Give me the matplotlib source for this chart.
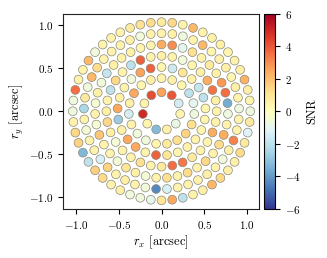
import numpy as np
import matplotlib
matplotlib.use('Agg')
import matplotlib.pyplot as plt

plt.rcParams['font.family'] = 'cmr10'
plt.rcParams['mathtext.fontset'] = 'cm'
plt.rcParams['axes.formatter.use_mathtext'] = True

# ring radii (arcsec), apertures per ring start at 90 deg and go counter-clockwise
ring_radius = [0.22, 0.383, 0.513, 0.643, 0.775, 0.905, 1.035]

snr_ring0 = [2.6, 4.2, 0.5, 5.0, 0.4, -3.2, 0.6, -0.8, 0.4, -1.5, 4.0]
snr_ring1 = [0.5, 0.6, 0.4, 2.5, 0.6, -1.5, 0.5, -0.6, -0.6, 0.4, 0.8, 1.2, 1.5,
             1.2, -0.7, -1.0, -2.0, 0.4, 0.6]
snr_ring2 = [0.4, 3.8, 2.6, -0.6, 0.5, 0.6, 2.5, -2.8, 0.6, 2.5, 2.5, 0.5, 3.8,
             1.0, 0.4, 0.5, 0.5, 0.4, 0.4, 0.4, -2.0, -1.8, 0.6, 1.0, -1.6]
snr_ring3 = [0.6, 0.5, 3.8, -2.0, 0.5, 1.4, -2.0, 0.5, 0.6, 1.4, 0.6, -0.5, 0.5,
             0.5, 1.2, 0.5, 0.8, 3.6, 3.4, 0.8, 0.5, 0.4, 2.4, 0.5, 0.5, 0.6,
             3.5, 2.4, 0.6, 0.4, -0.6, 0.5]
snr_ring4 = [2.4, 0.5, 0.4, 0.6, 0.5, 0.6, -1.8, -0.6, 0.6, -0.4, 0.5, -0.4, 1.8,
             0.5, 0.5, -0.5, 1.0, 0.6, -0.5, 0.5, 1.2, 0.5, 1.3, 0.5, 1.4, 0.5,
             1.3, 2.4, 0.5, -0.7, -3.6, 3.6, 2.8, 0.6, 0.8, 0.5, 1.2, -1.0, 3.0]
snr_ring5 = [0.5, 0.5, -0.6, 0.6, 0.5, 0.5, 0.5, 1.3, 2.2, -0.6, 0.8, -2.4, 0.5,
             -0.5, 0.5, 0.5, -1.4, 1.5, 0.5, 0.6, 0.5, -0.6, -4.4, -1.4, 0.5, 0.5,
             0.5, 0.6, 0.5, -0.6, 0.6, 3.2, 0.5, 0.5, -0.7, 0.5, 0.6, 0.4, 0.6,
             0.5, 0.4, 2.2, 0.5, -0.7, 0.6]
snr_ring6 = [0.8, 1.3, 1.1, 0.8, 0.5, 0.5, 0.5, -0.6, 2.2, 0.5, 0.5, 3.6, -0.7,
             -0.7, 0.5, 1.4, 1.5, -3.3, -2.0, 1.6, 1.3, 0.5, 0.6, -0.6, -0.6,
             -0.9, 1.0, 2.5, -2.0, 0.5, 0.6, 2.2, 1.4, 0.6, 0.6, 1.3, 0.8, -1.2,
             0.8, -0.7, 0.4, 0.6, 2.3, 0.6, 0.5, 0.4, 0.6, 0.6, 0.5, 2.2, 0.5,
             1.4]

snr_rings = [snr_ring0, snr_ring1, snr_ring2, snr_ring3, snr_ring4, snr_ring5, snr_ring6]

ticks = [-1.0, -0.5, 0.0, 0.5, 1.0]
cbar_ticks = [-6, -4, -2, 0, 2, 4, 6]

xs, ys, cs = [], [], []
for r, vals in zip(ring_radius, snr_rings):
    n = len(vals)
    ang = np.deg2rad(90 + 360.0 * np.arange(n) / n)
    xs.extend(r * np.cos(ang))
    ys.extend(r * np.sin(ang))
    cs.extend(vals)

fig = plt.figure(figsize=(3.27, 2.58), dpi=100)
ax = fig.add_axes([0.1936, 0.19, 0.5994, 0.756])
cax = fig.add_axes([0.808, 0.19, 0.033, 0.756])

sc = ax.scatter(xs, ys, c=cs, cmap='RdYlBu_r', vmin=-6, vmax=6, s=40,
                edgecolors='#8a8a7a', linewidths=0.5)
ax.set_xlim(-1.145, 1.14)
ax.set_ylim(-1.135, 1.13)
ax.set_xticks(ticks)
ax.set_yticks(ticks)
ax.tick_params(labelsize=8, width=0.8, length=3.5)
ax.set_xlabel(r'$r_x$ [arcsec]', fontsize=9, labelpad=2)
ax.set_ylabel(r'$r_y$ [arcsec]', fontsize=9, labelpad=2)
for sp in ax.spines.values():
    sp.set_color('#222222')

cb = fig.colorbar(sc, cax=cax, ticks=cbar_ticks)
cb.ax.tick_params(labelsize=8, width=0.8, length=3.5)
cb.set_label('SNR', fontsize=9)

fig.savefig('out.png', dpi=100)
